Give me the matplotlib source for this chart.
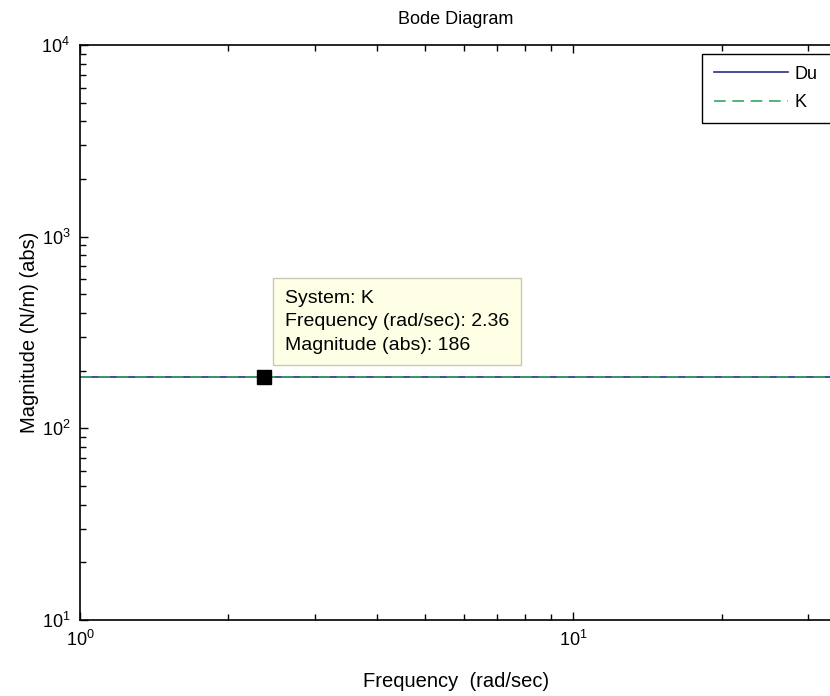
import matplotlib
matplotlib.use("Agg")
import matplotlib.pyplot as plt
from matplotlib.patches import Rectangle
from matplotlib.ticker import LogLocator, NullFormatter

plt.rcParams['font.family'] = ['Liberation Sans', 'DejaVu Sans']

# frequency span (rad/sec) and flat magnitude of both systems (N/m)
freq = [1.0, 33.5]
mag_du = [186.0, 186.0]
mag_k = [186.0, 186.0]

# data cursor on system K
tip_system = "K"
tip_freq = 2.36
tip_mag = 186

W, H = 830, 696
fig = plt.figure(figsize=(W / 100, H / 100), dpi=100)
ax = fig.add_axes([80 / W, 76 / H, 752 / W, 575 / H])

ax.loglog(freq, mag_du, color='#2b2b8c', lw=1.2, label='Du')
ax.loglog(freq, mag_k, color='#34a862', lw=1.2, ls=(0, (7, 4)), label='K')

ax.set_xlim(1, 33.5)
ax.set_ylim(10, 1e4)

ax.xaxis.set_major_locator(LogLocator(base=10))
ax.xaxis.set_minor_locator(LogLocator(base=10, subs=range(2, 10)))
ax.xaxis.set_minor_formatter(NullFormatter())
ax.yaxis.set_minor_locator(LogLocator(base=10, subs=range(2, 10)))
ax.yaxis.set_minor_formatter(NullFormatter())
ax.tick_params(which='both', direction='in', top=True, right=False, labelsize=13)
ax.tick_params(which='major', length=6, width=1)
ax.tick_params(which='minor', length=4, width=1)
ax.tick_params(axis='x', pad=7)
ax.tick_params(axis='y', pad=7)
ax.spines['right'].set_visible(False)
for s in ax.spines.values():
    s.set_linewidth(1.2)

ax.set_title('Bode Diagram', fontsize=13, pad=15)
ax.set_xlabel('Frequency  (rad/sec)', fontsize=14.5, labelpad=16)
ax.set_ylabel('Magnitude (N/m) (abs)', fontsize=14.5, labelpad=2)

# data tip marker and label box
ax.plot([tip_freq], [tip_mag], 's', color='black', ms=10.5, zorder=5)
ax.annotate('System: %s\nFrequency (rad/sec): %.2f\nMagnitude (abs): %d'
            % (tip_system, tip_freq, tip_mag),
            xy=(tip_freq, tip_mag), xytext=(15, 16.5), textcoords='offset points',
            ha='left', va='bottom', fontsize=14, linespacing=1.5,
            bbox=dict(boxstyle='square,pad=0.6', fc='#ffffe6', ec='#c8c8b8', lw=1),
            zorder=6)

# legend entries without frame; the box is drawn separately so it runs off the right edge
leg = fig.legend(loc='upper left', bbox_to_anchor=(702 / W, 1 - 54 / H),
                 fontsize=13, frameon=False, handlelength=4.1,
                 borderpad=0.65, labelspacing=0.65, handletextpad=0.4,
                 borderaxespad=0)
fig.patches.append(Rectangle((702 / W, 1 - 123 / H), 150 / W, 69 / H,
                             transform=fig.transFigure, fill=True, fc='white',
                             ec='black', lw=1, zorder=0))

fig.savefig('out.png', dpi=100)
